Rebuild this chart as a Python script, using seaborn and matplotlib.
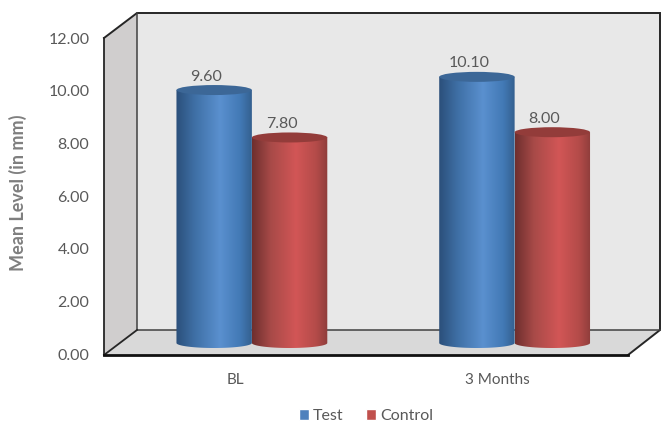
import numpy as np
import pandas as pd
import matplotlib
matplotlib.use("Agg")
import matplotlib.pyplot as plt
import seaborn as sns
from matplotlib.colors import LinearSegmentedColormap
from matplotlib.patches import Ellipse, Polygon
from matplotlib.path import Path
from matplotlib.lines import Line2D

# Values
categories = ["BL", "3 Months"]
test_values = [9.60, 10.10]
control_values = [7.80, 8.00]
series_names = ["Test", "Control"]
y_ticks = [0, 2, 4, 6, 8, 10, 12]

sns.set_theme(style="white")
plt.rcParams["font.family"] = ["Lato", "DejaVu Sans"]

W, H = 661, 423
TEXT = "#595959"
fig = plt.figure(figsize=(W / 100, H / 100), dpi=100, facecolor="white")


def px_axes(left, top, right, bottom, **kw):
    """Axes placed by pixel edges, measured from the top-left corner."""
    return fig.add_axes([left / W, 1 - bottom / H, (right - left) / W, (bottom - top) / H], **kw)


def px(points):
    return [(x / W, 1 - y / H) for x, y in points]


# Box walls and floor, with the front plane at x 104-628 and the back at 137-660
for pts, col in [
    ([(137, 13), (660, 13), (660, 330), (137, 330)], "#e8e8e8"),
    ([(104, 38), (137, 13), (137, 330), (104, 355)], "#d0cece"),
    ([(104, 355), (137, 330), (660, 330), (628, 355)], "#d9d9d9"),
]:
    fig.add_artist(Polygon(px(pts), closed=True, facecolor=col, edgecolor="none", transform=fig.transFigure))
for pts, lw, col in [
    ([(104, 38), (137, 13), (660, 13), (660, 330), (628, 355)], 1.4, "#262626"),
    ([(137, 13), (137, 330), (660, 330)], 1.1, "#404040"),
    ([(104, 355), (137, 330)], 1.3, "#262626"),
    ([(104, 38), (104, 355)], 1.3, "#262626"),
    ([(104, 355), (628, 355)], 2.0, "#111111"),
]:
    xy = np.array(px(pts))
    fig.add_artist(Line2D(xy[:, 0], xy[:, 1], lw=lw, color=col, transform=fig.transFigure,
                          solid_joinstyle="miter", solid_capstyle="projecting"))

# Front plane carries the axis ticks and category names
front = px_axes(104, 38, 628, 354)
front.set_zorder(5)
front.patch.set_alpha(0)
front.set_xlim(-0.5, 1.5)
front.set_ylim(0, 12)
front.set_xticks(range(len(categories)), categories)
front.set_yticks(y_ticks, [f"{v:.2f}" for v in y_ticks])
front.tick_params(axis="y", labelsize=11.5, labelcolor=TEXT, pad=10.5, length=0)
front.tick_params(axis="x", labelsize=11, labelcolor=TEXT, pad=14, length=0)
sns.despine(ax=front, left=True, bottom=True)
front.set_ylabel("Mean Level (in mm)", fontsize=13, fontweight="bold", color="#7f7f7f", labelpad=15, y=0.51)

# Cylinders stand mid-way between the front and back planes
UNIT = 26.35
LOW = -0.5
bars_ax = px_axes(120.5, 343 - 12 * UNIT, 646, 343 - LOW * UNIT)
bars_ax.set_zorder(6)
bars_ax.patch.set_alpha(0)

df = pd.DataFrame({
    "category": categories * 2,
    "group": [series_names[0]] * 2 + [series_names[1]] * 2,
    "value": test_values + control_values,
})
sns.barplot(data=df, x="category", y="value", hue="group", hue_order=series_names,
            palette=["#4f81bd", "#c0504d"], width=0.574, gap=0, saturation=1,
            errorbar=None, ax=bars_ax)

ramps = [
    (["#2b4f7a", "#3f70a6", "#5a90cf", "#4279b5", "#34608f"], "#3c6797"),
    (["#6e2f2e", "#a84a48", "#d25656", "#b34b49", "#8e3d3b"], "#933c3a"),
]
stops = [0.0, 0.25, 0.58, 0.85, 1.0]
RY = 5 / UNIT
n_series = len(series_names)
n_cat = len(categories)
for i, patch in enumerate(bars_ax.patches[:n_series * n_cat]):
    series = i // n_cat
    colors, cap = ramps[series]
    cmap = LinearSegmentedColormap.from_list("cyl", list(zip(stops, colors)))
    x0, w, h = patch.get_x(), patch.get_width(), patch.get_height()
    cx = x0 + w / 2
    theta = np.linspace(np.pi, 2 * np.pi, 60)
    outline = np.vstack([[x0, h], np.c_[cx + w / 2 * np.cos(theta), RY * np.sin(theta)], [x0 + w, h], [x0, h]])
    im = bars_ax.imshow(np.linspace(0, 1, 256)[None, :], cmap=cmap, aspect="auto",
                        extent=(x0, x0 + w, -RY, h), zorder=3 + series)
    im.set_clip_path(Path(outline), transform=bars_ax.transData)
    bars_ax.add_patch(Ellipse((cx, h), w, 2 * RY, facecolor=cap, edgecolor="none", zorder=3 + series))
    patch.set_visible(False)
    bars_ax.annotate(f"{h:.2f}", xy=(cx, h), xytext=(-8 * 0.72, 13.5 * 0.72), textcoords="offset points",
                     ha="center", va="center", fontsize=11.5, color=TEXT, zorder=8)

bars_ax.set_xlim(-0.5, 1.5)
bars_ax.set_ylim(LOW, 12)
bars_ax.set_xlabel("")
bars_ax.set_ylabel("")
bars_ax.set_xticks([])
bars_ax.set_yticks([])
sns.despine(ax=bars_ax, left=True, bottom=True)

# Figure-level legend centred under the plot
handles, labels = bars_ax.get_legend_handles_labels()
bars_ax.get_legend().remove()
fig.legend(handles, labels, loc="center", bbox_to_anchor=(366 / W, 1 - 416 / H),
           ncol=2, frameon=False, fontsize=11.5, handlelength=0.62, handleheight=0.62,
           handletextpad=0.25, columnspacing=1.45, labelcolor=TEXT,
           borderpad=0.1, borderaxespad=0)

fig.savefig("out.png", dpi=100)
